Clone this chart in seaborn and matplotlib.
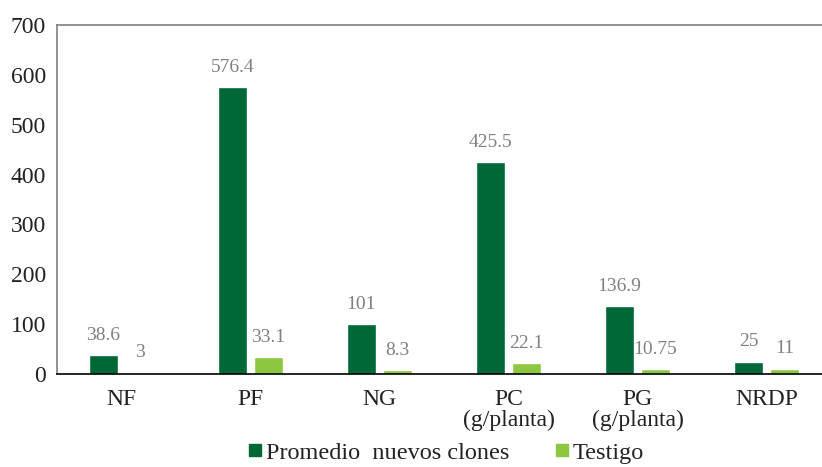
import pandas as pd
import numpy as np
import matplotlib
matplotlib.use('Agg')
import matplotlib.pyplot as plt
from matplotlib.lines import Line2D
import seaborn as sns

categories = ['NF', 'PF', 'NG', 'PC\n(g/planta)', 'PG\n(g/planta)', 'NRDP']
clones = [38.6, 576.4, 101, 425.5, 136.9, 25]
testigo = [3, 33.1, 8.3, 22.1, 10.75, 11]
value_labels_clones = ['38.6', '576.4', '101', '425.5', '136.9', '25']
value_labels_testigo = ['3', '33.1', '8.3', '22.1', '10.75', '11']
series = ['Promedio  nuevos clones', 'Testigo']
colors = ['#006837', '#8dc63f']

sns.set_theme(style='white')
plt.rcParams['font.family'] = ['Liberation Serif', 'DejaVu Serif']

df = pd.DataFrame({
    'cat': categories * 2,
    'valor': clones + testigo,
    'serie': [series[0]] * len(categories) + [series[1]] * len(categories),
})

fig = plt.figure(figsize=(8.22, 4.67), dpi=100)
ax = fig.add_axes([57 / 822, 1 - 374 / 467, 774 / 822, 349 / 467])
sns.barplot(data=df, x='cat', y='valor', hue='serie', palette=colors,
            width=0.56, gap=0.2, saturation=1, ax=ax, legend=False)

for cont, labs in zip(ax.containers, [value_labels_clones, value_labels_testigo]):
    ax.bar_label(cont, labels=labs, padding=8, color='#808080', fontsize=14)

ax.set_ylim(0, 700)
ax.set_yticks(np.arange(0, 701, 100))
ax.set_xlim(-0.5, len(categories) - 0.5)
ax.set_xlabel('')
ax.set_ylabel('')
ax.tick_params(axis='y', length=0, labelsize=17, labelcolor='#222222', pad=8)
ax.tick_params(axis='x', which='major', length=0, labelsize=17, labelcolor='#222222', pad=11)
ax.set_xticks(np.arange(-0.5, len(categories), 1), minor=True)
ax.tick_params(axis='x', which='minor', length=6, width=1.2, color='black', direction='out')
for lab in ax.get_xticklabels():
    lab.set_linespacing(1.0)

for s in ['top', 'left']:
    ax.spines[s].set_color('#808080')
    ax.spines[s].set_linewidth(1.2)
ax.spines['right'].set_visible(False)
ax.spines['bottom'].set_color('black')
ax.spines['bottom'].set_linewidth(1.2)

handles = [Line2D([], [], marker='s', linestyle='', markersize=9, color=c) for c in colors]
ax.legend(handles, series, loc='center', bbox_to_anchor=(0.5, -0.225), ncol=2,
          frameon=False, fontsize=17.5, handletextpad=0.0, columnspacing=1.7,
          handlelength=0.9, labelcolor='#222222', borderpad=0.2)

fig.savefig('out.png', dpi=100)
